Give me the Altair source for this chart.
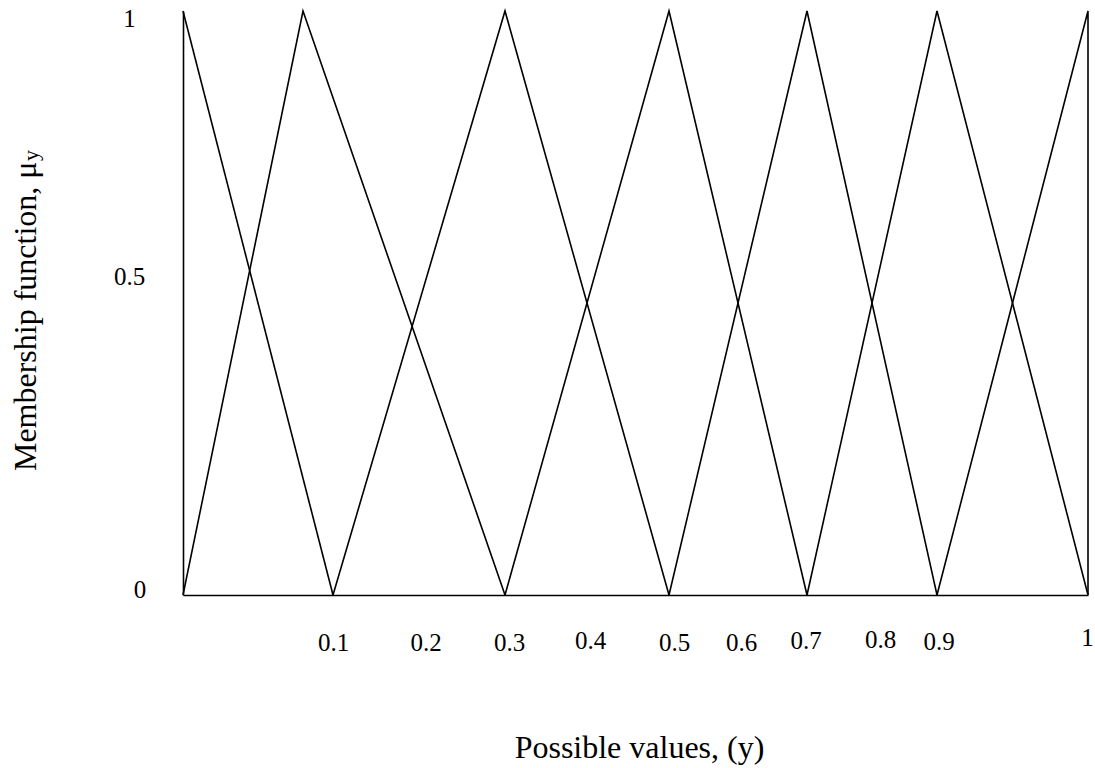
import altair as alt
import pandas as pd

FONT = "Liberation Serif"

# Triangular membership functions over the possible values y:
# breakpoints along y and the membership value at each breakpoint.
mf_names = ["MF1", "MF2", "MF3", "MF4", "MF5", "MF6", "MF7"]
mf_y = [
    [0.0, 0.1],
    [0.0, 0.08, 0.3],
    [0.1, 0.3, 0.5],
    [0.3, 0.5, 0.7],
    [0.5, 0.7, 0.9],
    [0.7, 0.9, 1.0],
    [0.9, 1.0, 1.0],
]
mf_mu = [
    [1, 0],
    [0, 1, 0],
    [0, 1, 0],
    [0, 1, 0],
    [0, 1, 0],
    [0, 1, 0],
    [0, 1, 0],
]

x_ticks = [0.1, 0.2, 0.3, 0.4, 0.5, 0.6, 0.7, 0.8, 0.9, 1.0]
y_ticks = [0, 0.5, 1]

rows = []
for name, ys, mus in zip(mf_names, mf_y, mf_mu):
    for i, (yv, mv) in enumerate(zip(ys, mus)):
        rows.append({"mf": name, "idx": i, "y": yv, "mu": mv})
df = pd.DataFrame(rows)

# The value axis is drawn piecewise-linear between its labelled breakpoints.
x_scale = alt.Scale(
    domain=[0.0, 0.1, 0.3, 0.5, 0.7, 0.9, 1.0],
    range=[0, 150, 322, 486, 624, 754, 905],
    nice=False,
    zero=False,
)

x_axis = alt.Axis(
    values=x_ticks,
    format="~g",
    title="Possible values, (y)",
    labelAlign="center",
    labelBaseline="alphabetic",
    labelOffset={"expr": "[0, 6.5, 4, 3, 5, 3, -1.5, 8, 1.5, -1][round(datum.value * 10) - 1]"},
    labelPadding={"expr": "[55, 55, 55, 53, 55, 55, 53, 52, 54, 50][round(datum.value * 10) - 1]"},
    titleX=456,
    titleY=162,
    titleAlign="center",
    titleBaseline="alphabetic",
)

y_axis = alt.Axis(
    values=y_ticks,
    format="~g",
    title="Membership function, μ",
    labelAlign="center",
    labelBaseline="middle",
    labelPadding={"expr": "datum.value == 0 ? 43.5 : 54"},
    labelOffset={"expr": "datum.value == 1 ? 7.5 : (datum.value == 0.5 ? -26.5 : -5.5)"},
    titleAngle=270,
    titleAlign="right",
    titleBaseline="alphabetic",
    titleX=-148,
    titleY=150,
)

lines = alt.Chart(df).mark_line(color="black", strokeWidth=1.6).encode(
    x=alt.X("y:Q", scale=x_scale, axis=x_axis),
    y=alt.Y("mu:Q", scale=alt.Scale(domain=[0, 1], nice=False, zero=False), axis=y_axis),
    detail="mf:N",
    order="idx:Q",
)

# subscript of the mu in the vertical axis title
subscript = alt.Chart(pd.DataFrame({"s": ["y"]})).mark_text(
    angle=270,
    align="left",
    baseline="alphabetic",
    font=FONT,
    fontSize=22,
    color="black",
).encode(
    text="s:N",
    x=alt.value(-145),
    y=alt.value(150),
)

chart = (
    alt.layer(lines, subscript)
    .properties(
        width=905,
        height=584,
        padding={"left": 183, "top": 11, "right": 7, "bottom": 173},
        autosize=alt.AutoSizeParams(type="none"),
        background="white",
    )
    .configure_view(stroke=None)
    .configure_axis(
        grid=False,
        ticks=False,
        tickSize=0,
        domainColor="black",
        domainWidth=1.6,
        labelFont=FONT,
        labelFontSize=25,
        labelColor="black",
        labelOverlap=False,
        labelFlush=False,
        titleFont=FONT,
        titleFontSize=32,
        titleFontWeight="normal",
        titleColor="black",
    )
)

chart.save("out.html", embed_options={"renderer": "svg", "actions": False})
